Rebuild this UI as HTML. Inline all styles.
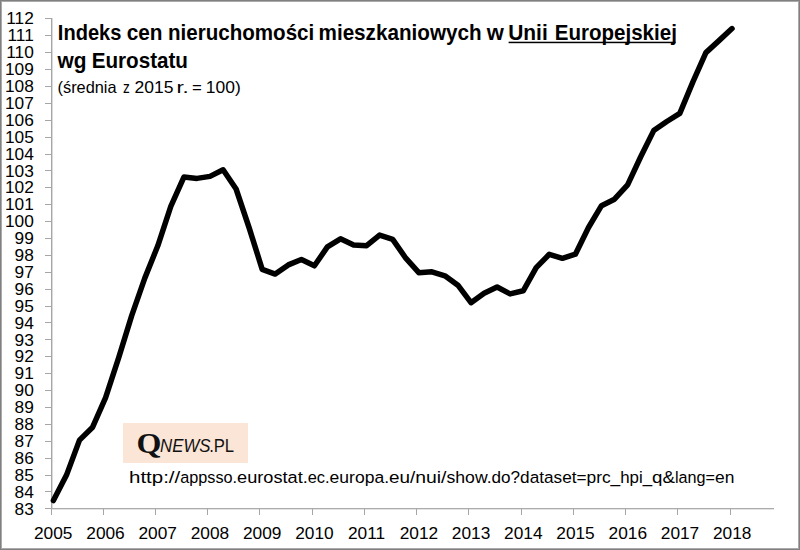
<!DOCTYPE html>
<html><head><meta charset="utf-8"><title>Indeks cen nieruchomości mieszkaniowych w Unii Europejskiej</title>
<style>
html,body{margin:0;padding:0;background:#fff;}
body{width:800px;height:550px;overflow:hidden;}
svg{display:block;}
.ax{font-family:"Liberation Sans",sans-serif;font-size:17.3px;fill:#000;}
</style></head><body>
<svg width="800" height="550" viewBox="0 0 800 550">
<rect x="0" y="0" width="800" height="550" fill="#fff"/>
<rect x="0.5" y="0.5" width="799" height="549" fill="none" stroke="#808080" stroke-width="1"/>
<rect x="1.5" y="1.5" width="797" height="547" fill="none" stroke="#aaaaaa" stroke-width="1"/>
<g stroke-width="1" fill="none" shape-rendering="crispEdges">
<path stroke="#dadada" d="M52.5 18V508"/>
<path stroke="#e4e4e4" d="M52 509.5H774"/>
</g>
<g stroke="#a6a6a6" stroke-width="1" fill="none" shape-rendering="crispEdges">
<path d="M51.5 18V509"/>
<path stroke="#ababab" d="M45 508.5H774"/>
<path d="M45 18.5H51M45 35.5H51M45 52.5H51M45 69.5H51M45 86.5H51M45 103.5H51M45 120.5H51M45 137.5H51M45 154.5H51M45 170.5H51M45 187.5H51M45 204.5H51M45 221.5H51M45 238.5H51M45 255.5H51M45 272.5H51M45 289.5H51M45 306.5H51M45 322.5H51M45 339.5H51M45 356.5H51M45 373.5H51M45 390.5H51M45 407.5H51M45 424.5H51M45 441.5H51M45 458.5H51M45 475.5H51M45 491.5H51M45 508.5H51"/>
<path d="M51.5 509V515M103.5 509V515M155.5 509V515M207.5 509V515M259.5 509V515M312.5 509V515M364.5 509V515M416.5 509V515M468.5 509V515M521.5 509V515M573.5 509V515M625.5 509V515M677.5 509V515M730.5 509V515"/>
</g>
<g class="ax" text-anchor="end">
<text x="33.8" y="24.4">112</text>
<text x="33.8" y="41.3">111</text>
<text x="33.8" y="58.2">110</text>
<text x="33.8" y="75.1">109</text>
<text x="33.8" y="92.0">108</text>
<text x="33.8" y="108.9">107</text>
<text x="33.8" y="125.8">106</text>
<text x="33.8" y="142.7">105</text>
<text x="33.8" y="159.6">104</text>
<text x="33.8" y="176.5">103</text>
<text x="33.8" y="193.4">102</text>
<text x="33.8" y="210.3">101</text>
<text x="33.8" y="227.2">100</text>
<text x="33.8" y="244.1">99</text>
<text x="33.8" y="261.0">98</text>
<text x="33.8" y="277.9">97</text>
<text x="33.8" y="294.8">96</text>
<text x="33.8" y="311.7">95</text>
<text x="33.8" y="328.6">94</text>
<text x="33.8" y="345.5">93</text>
<text x="33.8" y="362.4">92</text>
<text x="33.8" y="379.3">91</text>
<text x="33.8" y="396.2">90</text>
<text x="33.8" y="413.1">89</text>
<text x="33.8" y="430.0">88</text>
<text x="33.8" y="446.9">87</text>
<text x="33.8" y="463.8">86</text>
<text x="33.8" y="480.7">85</text>
<text x="33.8" y="497.6">84</text>
<text x="33.8" y="514.5">83</text>
</g>
<g class="ax" text-anchor="middle">
<text x="53.2" y="539.4">2005</text>
<text x="105.5" y="539.4">2006</text>
<text x="157.7" y="539.4">2007</text>
<text x="209.9" y="539.4">2008</text>
<text x="262.2" y="539.4">2009</text>
<text x="314.4" y="539.4">2010</text>
<text x="366.6" y="539.4">2011</text>
<text x="418.9" y="539.4">2012</text>
<text x="471.1" y="539.4">2013</text>
<text x="523.3" y="539.4">2014</text>
<text x="575.5" y="539.4">2015</text>
<text x="627.8" y="539.4">2016</text>
<text x="680.0" y="539.4">2017</text>
<text x="732.2" y="539.4">2018</text>
</g>
<polyline points="53.4,500.6 66.5,475.1 79.5,440.1 92.6,427.2 105.6,397.6 118.7,357.6 131.7,315.6 144.8,278.1 157.8,245.8 170.8,206.4 183.9,177.1 197.0,178.4 210.0,176.4 223.1,169.8 236.1,189.0 249.2,228.0 262.2,269.3 275.2,274.1 288.3,264.9 301.4,259.5 314.4,265.8 327.4,246.9 340.5,238.8 353.6,245.1 366.6,245.7 379.6,235.1 392.7,239.4 405.8,258.2 418.8,272.7 431.9,271.8 444.9,275.8 457.9,285.2 471.0,302.7 484.1,293.3 497.1,287.0 510.1,293.9 523.2,290.8 536.2,267.6 549.3,254.3 562.4,258.3 575.4,254.2 588.5,227.5 601.5,205.7 614.5,199.2 627.6,184.8 640.6,157.0 653.7,130.6 666.8,121.5 679.8,113.4 692.9,81.9 705.9,52.6 719.0,40.6 732.0,28.6" fill="none" stroke="#000" stroke-width="5.5" stroke-linejoin="round" stroke-linecap="round"/>
<g font-family="Liberation Sans, sans-serif" font-size="21.6" fill="#000">
<text x="57.82" y="40" textLength="63.57" lengthAdjust="spacingAndGlyphs" font-weight="bold">Indeks</text>
<text x="126.74" y="40" textLength="35.84" lengthAdjust="spacingAndGlyphs" font-weight="bold">cen</text>
<text x="168.05" y="40" textLength="146.17" lengthAdjust="spacingAndGlyphs" font-weight="bold">nieruchomości</text>
<text x="318.54" y="40" textLength="163.02" lengthAdjust="spacingAndGlyphs" font-weight="bold">mieszkaniowych</text>
<text x="486.70" y="40" textLength="17.09" lengthAdjust="spacingAndGlyphs" font-weight="bold">w</text>
<text x="508.23" y="40" textLength="39.51" lengthAdjust="spacingAndGlyphs" font-weight="bold">Unii</text>
<text x="554.75" y="40" textLength="122.10" lengthAdjust="spacingAndGlyphs" font-weight="bold">Europejskiej</text>
<text x="57.60" y="68.4" textLength="28.97" lengthAdjust="spacingAndGlyphs" font-weight="bold">wg</text>
<text x="91.64" y="68.4" textLength="96.36" lengthAdjust="spacingAndGlyphs" font-weight="bold">Eurostatu</text>
</g>
<rect x="508.6" y="41.7" width="167" height="1.5" fill="#000"/>
<g font-family="Liberation Sans, sans-serif" font-size="16.5" fill="#000">
<text x="57.51" y="92.7" textLength="59.12" lengthAdjust="spacingAndGlyphs">(średnia</text>
<text x="123.03" y="92.7" textLength="6.78" lengthAdjust="spacingAndGlyphs">z</text>
<text x="134.54" y="92.7" textLength="39.03" lengthAdjust="spacingAndGlyphs">2015</text>
<text x="176.46" y="92.7" textLength="12.32" lengthAdjust="spacingAndGlyphs">r.</text>
<text x="192.08" y="92.7" textLength="9.82" lengthAdjust="spacingAndGlyphs">=</text>
<text x="205.84" y="92.7" textLength="34.95" lengthAdjust="spacingAndGlyphs">100)</text>
</g>
<rect x="123" y="423" width="125" height="40" fill="#fbe5d6"/>
<g font-family="Liberation Sans, sans-serif" font-size="18">
<text x="136.40" y="452.5" textLength="24.93" lengthAdjust="spacingAndGlyphs" font-weight="bold" font-family="Liberation Serif, serif" font-size="29" fill="#111">Q</text>
<text x="160.07" y="451.8" textLength="50.43" lengthAdjust="spacingAndGlyphs" font-style="italic" fill="#111">NEWS</text>
<text x="209.15" y="451.8" textLength="25.00" lengthAdjust="spacingAndGlyphs" fill="#111">.PL</text>
</g>
<g font-family="Liberation Sans, sans-serif" font-size="17.4" fill="#000">
<text x="129.00" y="482.6" textLength="51.25" lengthAdjust="spacingAndGlyphs">http://</text>
<text x="180.25" y="482.6" textLength="56.85" lengthAdjust="spacingAndGlyphs">appsso.</text>
<text x="237.10" y="482.6" textLength="70.65" lengthAdjust="spacingAndGlyphs">eurostat.</text>
<text x="307.75" y="482.6" textLength="21.85" lengthAdjust="spacingAndGlyphs">ec.</text>
<text x="329.60" y="482.6" textLength="59.40" lengthAdjust="spacingAndGlyphs">europa.</text>
<text x="389.00" y="482.6" textLength="26.25" lengthAdjust="spacingAndGlyphs">eu/</text>
<text x="415.25" y="482.6" textLength="31.25" lengthAdjust="spacingAndGlyphs">nui/</text>
<text x="446.50" y="482.6" textLength="45.10" lengthAdjust="spacingAndGlyphs">show.</text>
<text x="491.60" y="482.6" textLength="28.50" lengthAdjust="spacingAndGlyphs">do?</text>
<text x="520.10" y="482.6" textLength="66.40" lengthAdjust="spacingAndGlyphs">dataset=</text>
<text x="586.50" y="482.6" textLength="33.75" lengthAdjust="spacingAndGlyphs">prc_</text>
<text x="620.25" y="482.6" textLength="31.85" lengthAdjust="spacingAndGlyphs">hpi_</text>
<text x="652.10" y="482.6" textLength="22.90" lengthAdjust="spacingAndGlyphs">q&amp;</text>
<text x="675.00" y="482.6" textLength="40.00" lengthAdjust="spacingAndGlyphs">lang=</text>
<text x="715.00" y="482.6" textLength="19.34" lengthAdjust="spacingAndGlyphs">en</text>
</g>
</svg>
</body></html>
